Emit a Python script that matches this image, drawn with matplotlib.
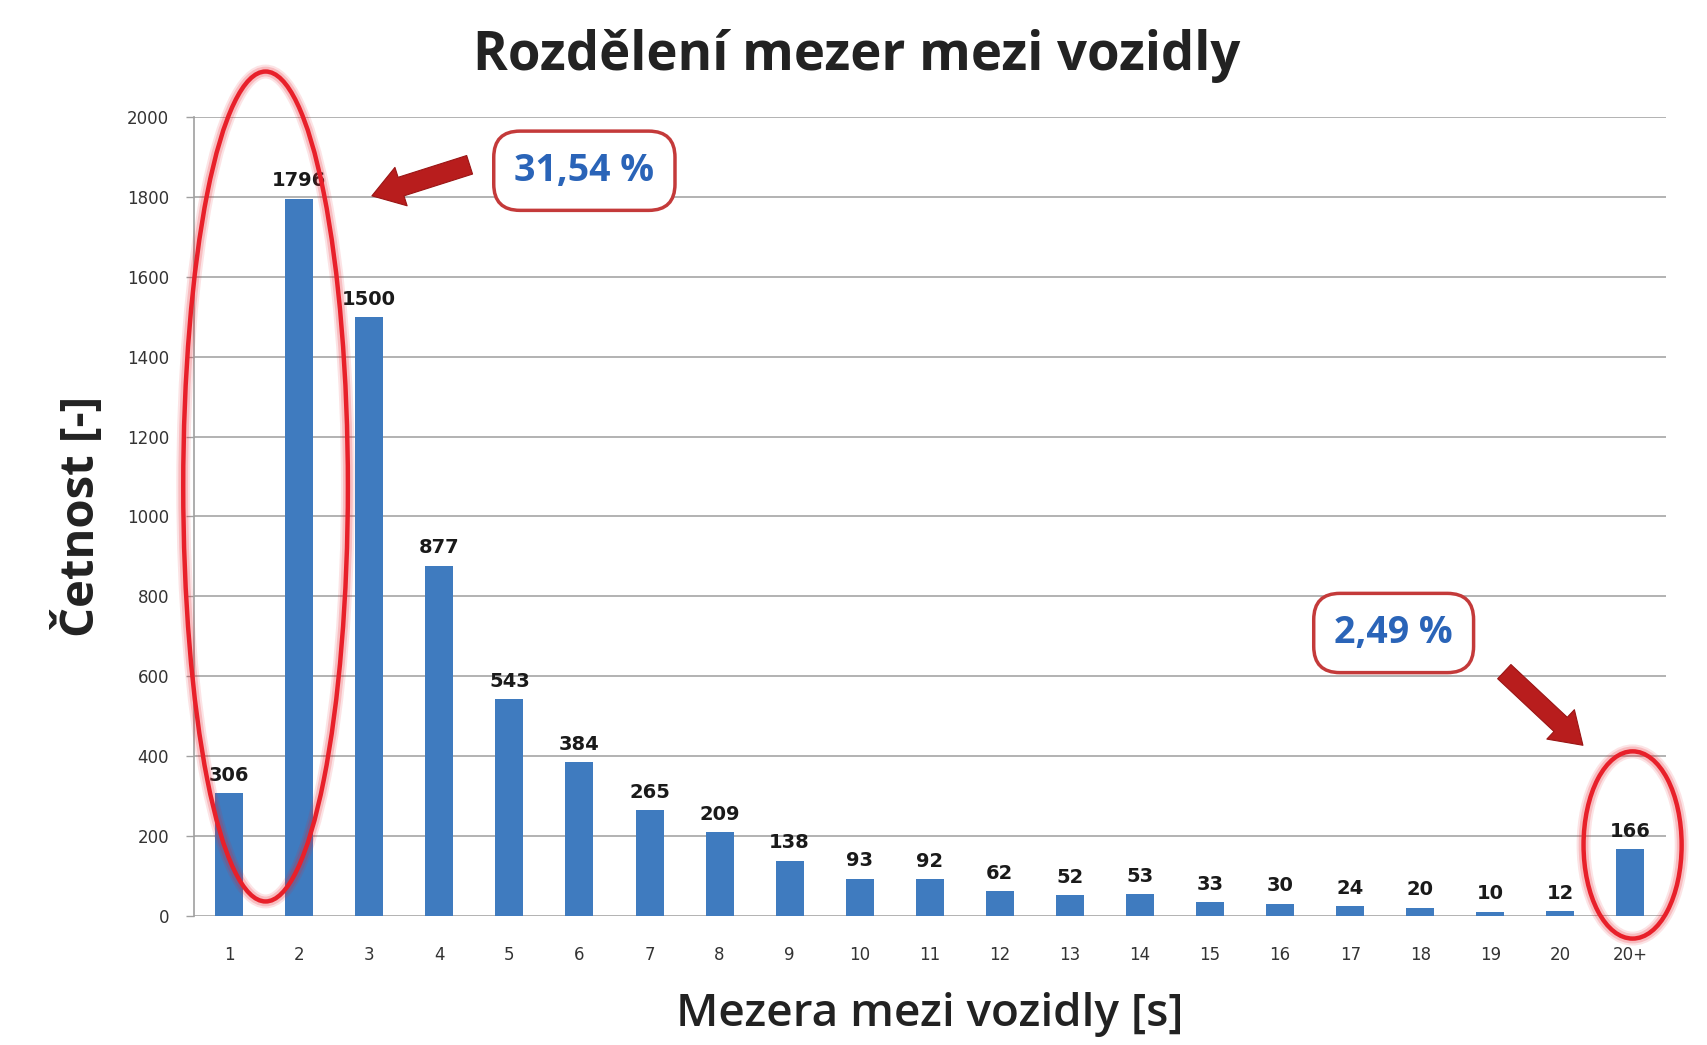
import matplotlib
matplotlib.use("Agg")
import matplotlib.pyplot as plt
from matplotlib.patches import Ellipse, FancyArrowPatch

categories = ["1", "2", "3", "4", "5", "6", "7", "8", "9", "10", "11", "12", "13", "14",
              "15", "16", "17", "18", "19", "20", "20+"]
counts = [306, 1796, 1500, 877, 543, 384, 265, 209, 138, 93, 92, 62, 52, 53, 33, 30, 24, 20, 10, 12, 166]
yticks = [0, 200, 400, 600, 800, 1000, 1200, 1400, 1600, 1800, 2000]
title = "Rozdělení mezer mezi vozidly"
xlabel = "Mezera mezi vozidly [s]"
ylabel = "Četnost [-]"
note_left = "31,54 %"
note_right = "2,49 %"

plt.rcParams['font.family'] = ['Open Sans', 'DejaVu Sans']

fig = plt.figure(figsize=(17.07, 10.45), dpi=100)
ax = fig.add_axes([0.1137, 0.1238, 0.862, 0.764])

x = list(range(len(categories)))
bars = ax.bar(x, counts, width=0.4, color="#3f7bbf", zorder=3)

ax.set_xlim(-0.5, len(categories) - 0.5)
ax.set_ylim(0, 2000)
ax.set_yticks(yticks)
ax.set_yticklabels([str(v) for v in yticks], fontsize=12, color="#333333", family="DejaVu Sans")
ax.set_xticks(x)
ax.set_xticklabels(categories, fontsize=12, color="#333333", family="DejaVu Sans")
ax.tick_params(axis='x', length=0, pad=22)
ax.tick_params(axis='y', length=6, width=1, color="#a0a0a0", pad=12)
ax.yaxis.grid(True, color="#a5a5a5", linewidth=1.2, zorder=0)
ax.set_axisbelow(True)
for s in ["top", "right", "bottom"]:
    ax.spines[s].set_visible(False)
ax.spines["left"].set_color("#a0a0a0")
ax.spines["left"].set_linewidth(1.2)

for xi, v in zip(x, counts):
    ax.annotate(str(v), (xi, v), xytext=(0, 6), textcoords="offset points",
                ha="center", va="bottom", fontsize=14, fontweight="bold", color="#1a1a1a",
                family="DejaVu Sans")

fig.text(0.502, 0.946, title, ha="center", va="center", fontsize=38, fontweight="bold", color="#222222")
ax.set_xlabel(xlabel, fontsize=33, fontweight="semibold", color="#222222", labelpad=20)
ax.set_ylabel(ylabel, fontsize=34, fontweight="bold", color="#222222", labelpad=16)

# ellipses (with soft glow)
def ellipse(cx, cy, w, h):
    for lw, a in [(10, 0.12), (7, 0.2), (3.2, 1.0)]:
        e = Ellipse((cx, cy), w, h, fill=False, edgecolor="#e8202a", linewidth=lw,
                    alpha=a, clip_on=False, zorder=5)
        ax.add_patch(e)

ellipse(0.52, 1075, 2.35, 2079)
ellipse(20.03, 177, 1.4, 469)

# arrows
def arrow(p0, p1):
    a = FancyArrowPatch(p0, p1, arrowstyle="simple,head_length=1.1,head_width=1.45,tail_width=0.7",
                        mutation_scale=20, facecolor="#b81d1d", edgecolor="#9a1515",
                        linewidth=0.8, clip_on=False, zorder=6)
    ax.add_patch(a)

arrow((3.47, 1883), (2.0, 1801))
arrow((18.17, 616), (19.35, 422))

box = dict(boxstyle="round,pad=0.55,rounding_size=0.7", facecolor="white",
           edgecolor="#c43a3a", linewidth=2.5)
ax.text(5.07, 1866, note_left, ha="center", va="center", fontsize=27, fontweight="bold",
        color="#2a64b8", bbox=box, zorder=7)
ax.text(16.62, 708, note_right, ha="center", va="center", fontsize=27, fontweight="bold",
        color="#2a64b8", bbox=box, zorder=7)

fig.savefig("out.png", dpi=100)
